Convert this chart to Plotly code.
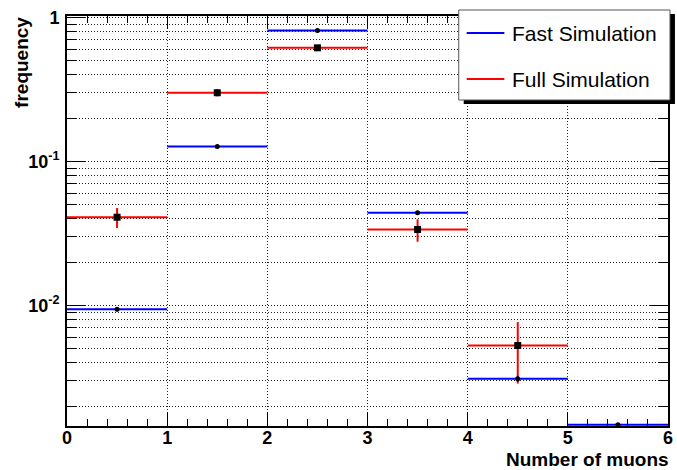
import numpy as np
import plotly.graph_objects as go

# Histogram binning and contents (frequency per number of muons)
bin_edges = [0, 1, 2, 3, 4, 5, 6]
fast_freq = [0.0094, 0.127, 0.81, 0.044, 0.0031, 0.0]
fast_err = [0.0003, 0.0011, 0.0028, 0.0006, 0.00015, 0.0]
full_freq = [0.041, 0.30, 0.615, 0.0337, 0.00527, 0.0]
full_err = [0.0065, 0.017, 0.025, 0.006, 0.0024, 0.0]

x_ticks = [0, 1, 2, 3, 4, 5, 6]
y_tickvals = [0.01, 0.1, 1]
y_ticktext = ["10<sup>-2</sup>", "10<sup>-1</sup>", "1"]

legend_labels = ["Fast Simulation", "Full Simulation"]
colors = ["#0000ff", "#ff0000"]

W, H = 677, 470
L, R, T, B = 67, 4, 16, 44
log_lo, log_hi = -2.837, 0.01
# empty bins are drawn just on the lower edge of the log axis (kept inside the clip area)
y_floor = 10 ** (log_lo + 0.008)

FONT = "Liberation Sans, Arial, Helvetica, sans-serif"

edges = np.array(bin_edges, dtype=float)
centers = 0.5 * (edges[:-1] + edges[1:])
half_w = 0.5 * np.diff(edges)


def px(x):
    return (x - L) / (W - L - R)


def py(y):
    return (H - B - y) / (H - T - B)


def hist_trace(values, errors, color, symbol, size, draw_empty):
    vals = np.array(values, dtype=float)
    if draw_empty:
        vals = np.maximum(vals, y_floor)
    else:
        vals = np.where(vals > 0, vals, np.nan)
    return go.Scatter(
        x=centers, y=vals, mode="markers", showlegend=False, cliponaxis=False,
        marker=dict(color="black", symbol=symbol, size=size),
        error_x=dict(type="data", array=half_w, color=color, thickness=2, width=0),
        error_y=dict(type="data", array=errors, color=color, thickness=2, width=0),
    )


fig = go.Figure()
fig.add_trace(hist_trace(full_freq, full_err, colors[1], "square", 7, False))
fig.add_trace(hist_trace(fast_freq, fast_err, colors[0], "circle", 5, True))

grid_dash = "1px,2px"
tickfont = dict(family=FONT, size=18, color="black", weight="bold")

fig.update_xaxes(
    range=[bin_edges[0], bin_edges[-1]], tickvals=x_ticks,
    ticks="inside", ticklen=13, tickwidth=1, tickcolor="black",
    showline=True, linewidth=2, linecolor="black", mirror="allticks",
    showgrid=True, gridcolor="#222", gridwidth=1, griddash=grid_dash,
    zeroline=False, tickfont=tickfont, ticklabelstandoff=-6, layer="below traces",
    minor=dict(dtick=0.2, ticks="inside", ticklen=7, tickcolor="black", showgrid=False),
)
fig.update_yaxes(
    type="log", range=[log_lo, log_hi], tickvals=y_tickvals, ticktext=y_ticktext,
    ticks="inside", ticklen=18, tickwidth=1, tickcolor="black",
    showline=True, linewidth=2, linecolor="black", mirror="allticks",
    showgrid=True, gridcolor="#222", gridwidth=1, griddash=grid_dash,
    zeroline=False, tickfont=tickfont, ticklabelstandoff=2, layer="below traces",
    minor=dict(dtick="D1", ticks="inside", ticklen=9, tickcolor="black",
               showgrid=True, gridcolor="#222", gridwidth=1, griddash=grid_dash),
)

# Legend box with drop shadow
shapes = [
    dict(type="rect", xref="paper", yref="paper", layer="above",
         x0=px(467), x1=px(680), y0=py(104), y1=py(14),
         fillcolor="black", line=dict(width=0)),
    dict(type="rect", xref="paper", yref="paper", layer="above",
         x0=px(462), x1=px(675), y0=py(100), y1=py(10),
         fillcolor="white", line=dict(color="#555", width=1)),
]
annotations = []
for label, color, yc in zip(legend_labels, colors, [33, 79]):
    shapes.append(dict(type="line", xref="paper", yref="paper", layer="above",
                       x0=px(470), x1=px(508), y0=py(yc), y1=py(yc),
                       line=dict(color=color, width=2)))
    annotations.append(dict(text=label, xref="paper", yref="paper", showarrow=False,
                            x=px(514), y=py(yc), xanchor="left", yanchor="middle",
                            font=dict(family=FONT, size=21, color="black")))

# Axis titles
annotations.append(dict(text="Number of muons", xref="paper", yref="paper", showarrow=False,
                        x=px(676), y=py(459), xanchor="right", yanchor="middle",
                        font=dict(family=FONT, size=19, color="black", weight="bold")))
annotations.append(dict(text="frequency", xref="paper", yref="paper", showarrow=False,
                        textangle=-90, x=px(21), y=py(15), xanchor="center", yanchor="top",
                        font=dict(family=FONT, size=19, color="black", weight="bold")))

fig.update_layout(
    width=W, height=H, margin=dict(l=L, r=R, t=T, b=B),
    paper_bgcolor="white", plot_bgcolor="white",
    shapes=shapes, annotations=annotations, showlegend=False,
)

fig.write_html("out.html")
